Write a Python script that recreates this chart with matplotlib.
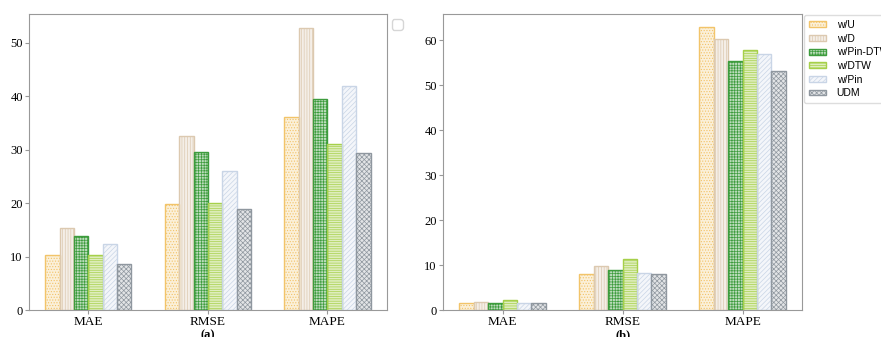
import numpy as np
import matplotlib
matplotlib.use("Agg")
import matplotlib.pyplot as plt
from matplotlib.colors import to_rgba

# ---------------------------------------------------------
# Data
# ---------------------------------------------------------
metrics = ["MAE", "RMSE", "MAPE"]
variants = ["w/U", "w/D", "w/Pin-DTW", "w/DTW", "w/Pin", "UDM"]

# panel (a)
a_wU = [10.2, 19.9, 36.0]
a_wD = [15.3, 32.5, 52.8]
a_wPinDTW = [13.8, 29.6, 39.5]
a_wDTW = [10.2, 20.0, 31.0]
a_wPin = [12.4, 25.9, 41.8]
a_UDM = [8.6, 18.9, 29.3]

# panel (b)
b_wU = [1.5, 8.0, 62.9]
b_wD = [1.7, 9.9, 60.2]
b_wPinDTW = [1.6, 8.9, 55.4]
b_wDTW = [2.2, 11.3, 57.8]
b_wPin = [1.5, 8.3, 56.9]
b_UDM = [1.5, 8.0, 53.2]

colors = ["#f2c46a", "#dcc9b0", "#3d9c3d", "#a6d04a", "#c9d5e6", "#8f979f"]
hatches = ["......", "||||||", "++++++", "-------", "///////", "xxxxxxx"]
tints = [0.25, 0.3, 0.35, 0.35, 0.2, 0.25]

# ---------------------------------------------------------
# Plot
# ---------------------------------------------------------
plt.rcParams["hatch.linewidth"] = 0.5

fig = plt.figure(figsize=(8.81, 3.37), dpi=100)
ax1 = fig.add_axes([0.033, 0.080, 0.406, 0.878])
ax2 = fig.add_axes([0.503, 0.080, 0.4075, 0.878])

x = np.arange(len(metrics))
width = 0.12


def draw(ax, series, label):
    for i, vals in enumerate(series):
        ax.bar(x + (i - 2.5) * width, vals, width,
               facecolor=to_rgba(colors[i], tints[i]), edgecolor=colors[i],
               hatch=hatches[i], linewidth=1.0, label=variants[i])
    ax.set_xticks(x)
    ax.set_xticklabels(metrics, fontsize=9.5, family="Liberation Serif")
    ax.set_xlabel(label, fontsize=9, family="Liberation Serif",
                  fontweight="bold", labelpad=0.5)
    for s in ax.spines.values():
        s.set_color("#999999")
    ax.tick_params(axis="both", length=3, color="#999999", pad=1.5)


draw(ax1, [a_wU, a_wD, a_wPinDTW, a_wDTW, a_wPin, a_UDM], "(a)")
draw(ax2, [b_wU, b_wD, b_wPinDTW, b_wDTW, b_wPin, b_UDM], "(b)")

ax1.set_ylim(0, 55.3)
ax1.set_yticks([0, 10, 20, 30, 40, 50])
ax2.set_ylim(0, 65.8)
ax2.set_yticks([0, 10, 20, 30, 40, 50, 60])
for ax in (ax1, ax2):
    for t in ax.get_yticklabels():
        t.set_family("Liberation Serif")
        t.set_fontsize(9)

# empty legend box on left panel
ax1.legend(handles=[], loc="upper left", bbox_to_anchor=(1.0, 1.0),
           borderaxespad=0.35, frameon=True)

leg = ax2.legend(loc="upper left", bbox_to_anchor=(1.0, 1.005),
                 borderaxespad=0.2,
                 prop={"family": "Liberation Sans", "size": 7.5},
                 handlelength=1.6, handleheight=0.5, labelspacing=0.35,
                 handletextpad=1.0, borderpad=0.5, framealpha=1,
                 edgecolor="#dddddd")

fig.savefig("out.png", dpi=100)
